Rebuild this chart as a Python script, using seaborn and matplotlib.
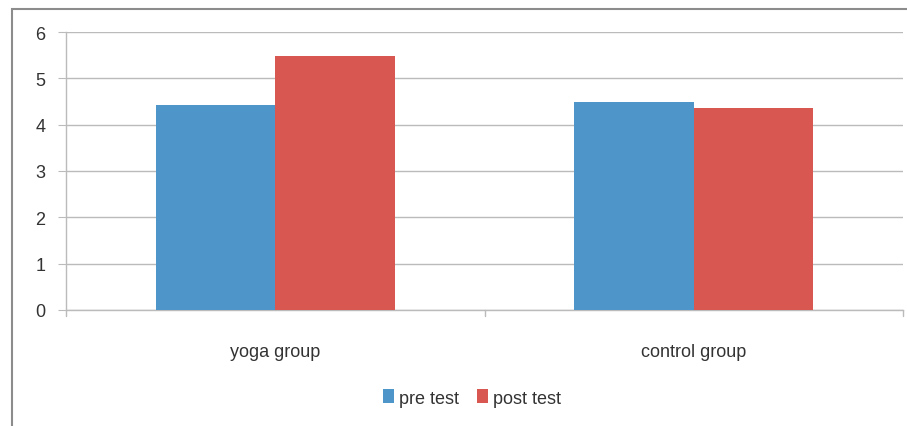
import matplotlib
matplotlib.use("Agg")
import matplotlib.pyplot as plt
import seaborn as sns
import pandas as pd
from matplotlib.patches import Rectangle

groups = ["yoga group", "control group"]
series = ["pre test", "post test"]
pre_test = [4.42, 4.48]
post_test = [5.48, 4.35]
y_ticks = [0, 1, 2, 3, 4, 5, 6]

df = pd.DataFrame({
    "group": groups * 2,
    "series": [series[0]] * 2 + [series[1]] * 2,
    "value": pre_test + post_test,
})

sns.set_style("white")
plt.rcParams["font.family"] = ["Liberation Sans", "DejaVu Sans"]

W, H = 907, 427
fig = plt.figure(figsize=(W / 100, H / 100), dpi=100)
ax = fig.add_axes([66 / W, (H - 311) / H, (903 - 66) / W, (311 - 33) / H])

palette = {"pre test": "#4E95C9", "post test": "#D95751"}
sns.barplot(data=df, x="group", y="value", hue="series", palette=palette,
            width=0.57, ax=ax, saturation=1, legend=True, zorder=3,
            linewidth=0, edgecolor="none")

ax.set_xlim(-0.5, 1.5)
ax.set_ylim(0, 6)
ax.set_yticks(y_ticks)
ax.yaxis.grid(True, color="#BBBBBB", linewidth=1, zorder=0)
ax.set_axisbelow(True)
for s in ["top", "right"]:
    ax.spines[s].set_visible(False)
for s in ["left", "bottom"]:
    ax.spines[s].set_color("#BBBBBB")
    ax.spines[s].set_linewidth(1)
ax.set_xlabel("")
ax.set_ylabel("")
ax.tick_params(axis="y", length=6, color="#BBBBBB", labelsize=13, labelcolor="#333333", pad=9, left=True)
ax.tick_params(axis="x", length=0, labelsize=13, labelcolor="#333333", pad=24)
for xv in [-0.5, 0.5, 1.5]:
    ax.plot([xv, xv], [0, -0.13], color="#BBBBBB", lw=1, clip_on=False, zorder=1)

leg = ax.legend(loc="center", bbox_to_anchor=(472 / W, (H - 399) / H),
                bbox_transform=fig.transFigure, ncol=2, frameon=False,
                fontsize=13, handlelength=0.6, handleheight=0.8,
                handletextpad=0.3, columnspacing=1.0)
for t in leg.get_texts():
    t.set_color("#333333")

fig.patches.append(Rectangle((12 / W, -0.1), 1.2, (H - 10) / H + 0.1,
                             transform=fig.transFigure, fill=False,
                             edgecolor="#8C8C8C", linewidth=1.5))

fig.savefig("out.png", dpi=100)
